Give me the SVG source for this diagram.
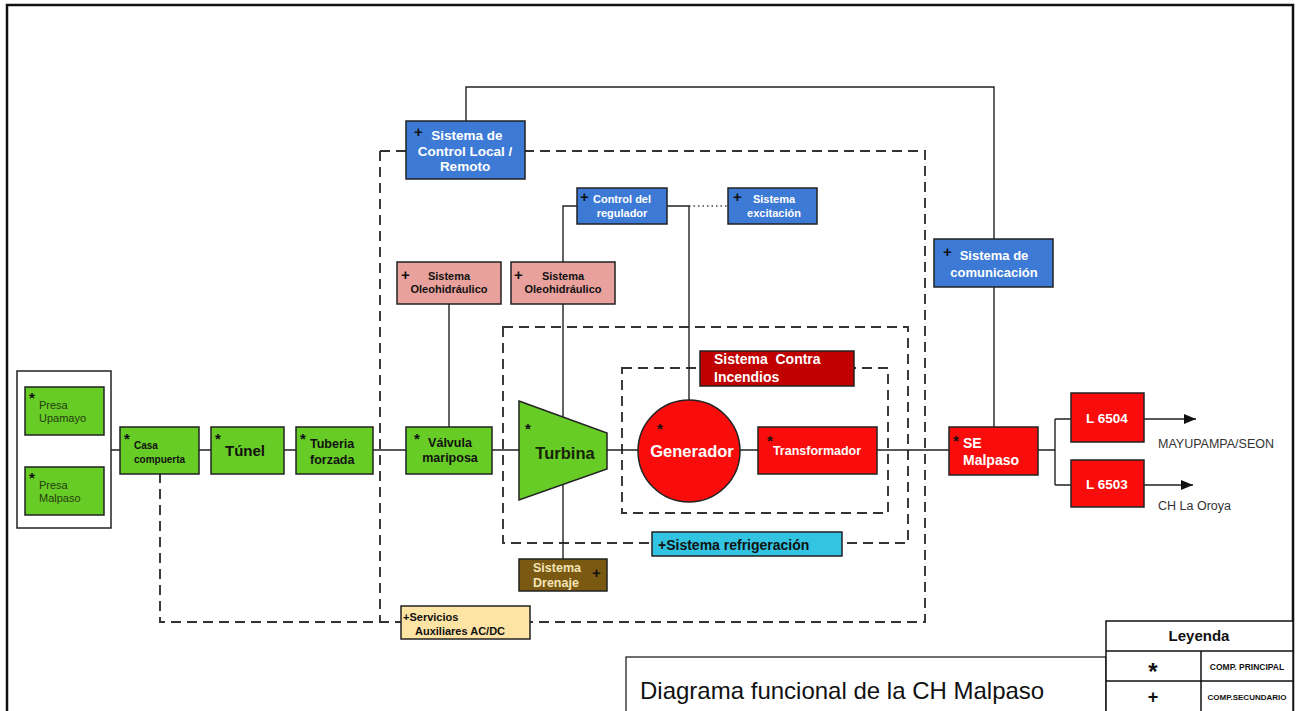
<svg xmlns="http://www.w3.org/2000/svg" width="1296" height="711" viewBox="0 0 1296 711">
<defs>
<style>
text{font-family:"Liberation Sans",Arial,sans-serif}
.b{font-weight:bold}
.w{fill:#fff}
.k{fill:#111}
.g{fill:#67cc25;stroke:#222;stroke-width:1.5}
.bl{fill:#3c7ad6;stroke:#222;stroke-width:1.5}
.pk{fill:#e8a19d;stroke:#222;stroke-width:1.5}
.rd{fill:#f80c0c;stroke:#222;stroke-width:1.5}
.dr{fill:#c10000;stroke:#222;stroke-width:1.5}
.cy{fill:#33c4e2;stroke:#222;stroke-width:1.5}
.br{fill:#7a5a12;stroke:#222;stroke-width:1.5}
.cr{fill:#fde3a4;stroke:#222;stroke-width:1.5}
.ln{fill:none;stroke:#222;stroke-width:1.4}
.ds{fill:none;stroke:#333;stroke-width:1.9;stroke-dasharray:10 6}
.dt{fill:none;stroke:#444;stroke-width:1.4;stroke-dasharray:1.5 3}
.st{font-size:15px;font-weight:bold;fill:#111}
.pl{font-size:15px;font-weight:bold;fill:#111}
</style>
<marker id="arr" viewBox="0 0 12 10" refX="12" refY="5" markerWidth="12" markerHeight="10" markerUnits="userSpaceOnUse" orient="auto">
<path d="M0,0 L12,5 L0,10 Z" fill="#111"/>
</marker>
</defs>
<rect x="0" y="0" width="1296" height="711" fill="#fff"/>
<path d="M7,711 V5 H1293 V711" fill="none" stroke="#111" stroke-width="2.5"/>

<g id="connectors">
<path class="ds" d="M380,151 H925 V622 H160 V474"/>
<path class="ds" d="M380,151 V622"/>
<rect class="ds" x="503" y="327" width="405" height="216"/>
<rect class="ds" x="622" y="368" width="266" height="145"/>
<path class="ln" d="M111,450 H120 M199,450 H211 M284,450 H296 M373,450 H406 M492,450 H519 M607,450 H638 M740,450 H758 M877,450 H949 M1038,450 H1055"/>
<path class="ln" d="M466,121 V87 H994 V239 M994,287 V427"/>
<path class="ln" d="M449,304 V427"/>
<path class="ln" d="M577,206 H563 V262 M563,304 V559"/>
<path class="ln" d="M667,206 H689 V400"/>
<path class="dt" d="M689,206 H728"/>
<path class="ln" d="M1055,419 V485 M1055,419 H1071 M1055,485 H1071"/>
<path class="ln" d="M1144,419 H1196" marker-end="url(#arr)"/>
<path class="ln" d="M1144,485 H1193" marker-end="url(#arr)"/>
</g>

<g id="grupo-presas">
<rect x="17" y="371" width="94" height="157" fill="#fff" stroke="#222" stroke-width="1.5"/>
</g>
<g id="presa-upamayo">
<rect class="g" x="25" y="387" width="79" height="48"/>
<text x="29" y="403" class="st" font-size="14">*</text>
<text x="39" y="409" font-size="11" fill="#263d12">Presa</text>
<text x="39" y="422" font-size="11" fill="#263d12">Upamayo</text>
</g>
<g id="presa-malpaso">
<rect class="g" x="25" y="467" width="79" height="48"/>
<text x="29" y="483" class="st" font-size="14">*</text>
<text x="39" y="489" font-size="11" fill="#263d12">Presa</text>
<text x="39" y="502" font-size="11" fill="#263d12">Malpaso</text>
</g>
<g id="casa-compuerta">
<rect class="g" x="120" y="427" width="79" height="47"/>
<text x="124" y="444" class="st">*</text>
<text x="134" y="449" class="b k" font-size="10">Casa</text>
<text x="134" y="463" class="b k" font-size="10">compuerta</text>
</g>
<g id="tunel">
<rect class="g" x="211" y="427" width="73" height="47"/>
<text x="215" y="444" class="st">*</text>
<text x="245" y="456" class="b k" font-size="15" text-anchor="middle">Túnel</text>
</g>
<g id="tuberia-forzada">
<rect class="g" x="296" y="427" width="77" height="47"/>
<text x="300" y="444" class="st">*</text>
<text x="310" y="448" class="b k" font-size="12.5">Tuberia</text>
<text x="310" y="464" class="b k" font-size="12.5">forzada</text>
</g>
<g id="valvula-mariposa">
<rect class="g" x="406" y="427" width="86" height="47"/>
<text x="414" y="444" class="st">*</text>
<text x="450" y="447" class="b k" font-size="12.5" text-anchor="middle">Válvula</text>
<text x="450" y="462" class="b k" font-size="12.5" text-anchor="middle">mariposa</text>
</g>
<g id="turbina">
<polygon class="g" points="519,401 607,433 607,469 519,500"/>
<text x="525" y="434" class="st">*</text>
<text x="565" y="459" class="b" font-size="16.5" fill="#17240a" text-anchor="middle">Turbina</text>
</g>
<g id="generador">
<circle class="rd" cx="689" cy="451" r="51"/>
<text x="657" y="434" class="st">*</text>
<text x="692" y="457" class="b w" font-size="16.5" text-anchor="middle">Generador</text>
</g>
<g id="transformador">
<rect class="rd" x="758" y="427" width="119" height="47"/>
<text x="767" y="446" class="st">*</text>
<text x="817" y="455" class="b w" font-size="12.5" text-anchor="middle">Transformador</text>
</g>
<g id="se-malpaso">
<rect class="rd" x="949" y="427" width="89" height="48"/>
<text x="953" y="446" class="st">*</text>
<text x="963" y="448" class="b w" font-size="14">SE</text>
<text x="963" y="465" class="b w" font-size="14">Malpaso</text>
</g>
<g id="l6504">
<rect class="rd" x="1071" y="393" width="73" height="49"/>
<text x="1107" y="423" class="b w" font-size="13.5" text-anchor="middle">L 6504</text>
</g>
<g id="l6503">
<rect class="rd" x="1071" y="460" width="73" height="47"/>
<text x="1107" y="489" class="b w" font-size="13.5" text-anchor="middle">L 6503</text>
</g>
<g id="destinos">
<text x="1158" y="448" font-size="12.5" fill="#333">MAYUPAMPA/SEON</text>
<text x="1158" y="510" font-size="12.5" fill="#333">CH La Oroya</text>
</g>
<g id="control-local">
<rect class="bl" x="406" y="121" width="119" height="58"/>
<text x="414" y="137" class="pl">+</text>
<text x="467" y="140" class="b w" font-size="13.5" text-anchor="middle">Sistema de</text>
<text x="465" y="156" class="b w" font-size="13.5" text-anchor="middle">Control Local /</text>
<text x="465" y="171" class="b w" font-size="13.5" text-anchor="middle">Remoto</text>
</g>
<g id="control-regulador">
<rect class="bl" x="577" y="188" width="90" height="36"/>
<text x="580" y="202" class="pl" font-size="13">+</text>
<text x="622" y="203" class="b w" font-size="11" text-anchor="middle">Control del</text>
<text x="622" y="217" class="b w" font-size="11" text-anchor="middle">regulador</text>
</g>
<g id="sistema-excitacion">
<rect class="bl" x="728" y="188" width="89" height="36"/>
<text x="733" y="202" class="pl" font-size="13">+</text>
<text x="774" y="203" class="b w" font-size="11" text-anchor="middle">Sistema</text>
<text x="774" y="217" class="b w" font-size="11" text-anchor="middle">excitación</text>
</g>
<g id="oleohidraulico-1">
<rect class="pk" x="397" y="262" width="104" height="42"/>
<text x="401" y="280" class="pl" font-size="14">+</text>
<text x="449" y="280" class="b k" font-size="11" text-anchor="middle">Sistema</text>
<text x="449" y="293" class="b k" font-size="11" text-anchor="middle">Oleohidráulico</text>
</g>
<g id="oleohidraulico-2">
<rect class="pk" x="511" y="262" width="104" height="42"/>
<text x="514" y="280" class="pl" font-size="14">+</text>
<text x="563" y="280" class="b k" font-size="11" text-anchor="middle">Sistema</text>
<text x="563" y="293" class="b k" font-size="11" text-anchor="middle">Oleohidráulico</text>
</g>
<g id="sistema-comunicacion">
<rect class="bl" x="934" y="239" width="119" height="48"/>
<text x="943" y="257" class="pl">+</text>
<text x="994" y="260" class="b w" font-size="13" text-anchor="middle">Sistema de</text>
<text x="994" y="277" class="b w" font-size="13" text-anchor="middle">comunicación</text>
</g>
<g id="contra-incendios">
<rect class="dr" x="700" y="351" width="154" height="35"/>
<text x="714" y="364" class="b w" font-size="14" xml:space="preserve">Sistema  Contra</text>
<text x="714" y="382" class="b w" font-size="14">Incendios</text>
</g>
<g id="refrigeracion">
<rect class="cy" x="652" y="532" width="190" height="24"/>
<text x="658" y="550" class="b k" font-size="14">+Sistema refrigeración</text>
</g>
<g id="drenaje">
<rect class="br" x="519" y="559" width="88" height="32"/>
<text x="533" y="572" class="b" font-size="12.5" fill="#f3e4b8">Sistema</text>
<text x="533" y="587" class="b" font-size="12.5" fill="#f3e4b8">Drenaje</text>
<text x="592" y="578" class="pl" font-size="14">+</text>
</g>
<g id="servicios-auxiliares">
<rect class="cr" x="401" y="606" width="129" height="33"/>
<text x="403" y="621" class="b k" font-size="11">+Servicios</text>
<text x="415" y="635" class="b k" font-size="11">Auxiliares AC/DC</text>
</g>
<g id="titulo">
<rect x="626" y="657" width="480" height="60" fill="#fff" stroke="#222" stroke-width="1.3"/>
<text x="640" y="699" font-size="24" fill="#111">Diagrama funcional de la CH Malpaso</text>
</g>
<g id="leyenda">
<rect x="1106" y="621" width="187" height="95" fill="#fff" stroke="#111" stroke-width="1.5"/>
<path d="M1106,651 H1293 M1106,681 H1293 M1201,651 V711" stroke="#111" stroke-width="1.5" fill="none"/>
<text x="1199" y="641" class="b k" font-size="15" text-anchor="middle">Leyenda</text>
<text x="1153" y="680" class="b k" font-size="24" text-anchor="middle">*</text>
<text x="1153" y="703" class="b k" font-size="18" text-anchor="middle">+</text>
<text x="1247" y="670" class="b k" font-size="8.5" text-anchor="middle">COMP. PRINCIPAL</text>
<text x="1247" y="700" class="b k" font-size="8" text-anchor="middle">COMP.SECUNDARIO</text>
</g>
</svg>
